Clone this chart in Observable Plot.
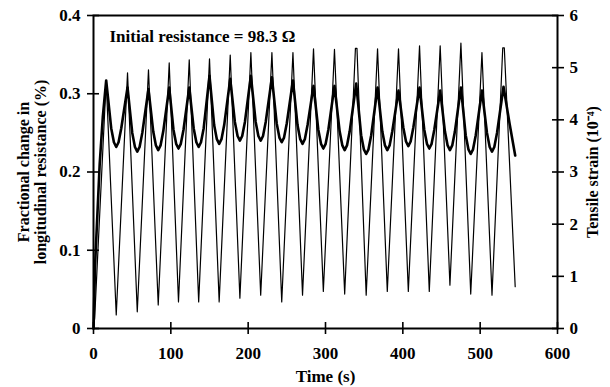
<!DOCTYPE html>
<html>
<head>
<meta charset="utf-8">
<script src="https://cdn.jsdelivr.net/npm/d3@7"></script>
<script src="https://cdn.jsdelivr.net/npm/@observablehq/plot@0.6"></script>
<style>
  html, body { margin: 0; padding: 0; background: #fff; }
</style>
</head>
<body>
<div id="chart"></div>
<script>
// ---- data ----
const timeTicks = [0, 100, 200, 300, 400, 500, 600];
const resTicks = [0, 0.1, 0.2, 0.3, 0.4];
const strainTicks = [0, 1, 2, 3, 4, 5, 6];

// tensile strain (10^-4), thin line
const strainT = [0, 1.5, 16.4, 29.4, 44.0, 56.6, 71.1, 83.7, 97.9, 109.9, 123.8, 136.0, 150.0, 162.5, 176.8, 189.3, 203.5, 216.2, 230.7, 243.4, 257.9, 270.3, 284.5, 297.2, 311.6, 324.8, 338.7, 340.7, 352.6, 367.3, 379.9, 394.4, 407.1, 421.6, 434.2, 448.3, 460.9, 475.1, 487.8, 502.3, 515.3, 529.2, 531.2, 545.3];
const strainV = [0, 0.2, 4.75, 0.26, 4.90, 0.32, 4.96, 0.45, 5.09, 0.51, 5.15, 0.51, 5.17, 0.51, 5.24, 0.58, 5.29, 0.64, 5.29, 0.51, 5.29, 0.64, 5.36, 0.71, 5.35, 0.66, 5.37, 5.37, 0.64, 5.36, 0.71, 5.36, 0.71, 5.42, 0.71, 5.42, 0.83, 5.47, 0.66, 5.29, 0.64, 5.38, 5.38, 0.80];

// fractional change in longitudinal resistance (%), thick line
const resT = [0, 2, 8, 12, 16.4,
  22.9, 26.4, 29.4, 32.4, 35.9, 44.0,
  50.1, 53.6, 56.6, 59.6, 63.1, 71.1,
  77.2, 80.7, 83.7, 86.7, 90.2, 97.9,
  103.4, 106.9, 109.9, 112.9, 116.4, 123.8,
  129.5, 133.0, 136.0, 139.0, 142.5, 150.0,
  156.0, 159.5, 162.5, 165.5, 169.0, 176.8,
  182.8, 186.3, 189.3, 192.3, 195.8, 203.5,
  209.7, 213.2, 216.2, 219.2, 222.7, 230.7,
  236.9, 240.4, 243.4, 246.4, 249.9, 257.9,
  263.8, 267.3, 270.3, 273.3, 276.8, 284.5,
  290.7, 294.2, 297.2, 300.2, 303.7, 311.6,
  318.3, 321.8, 324.8, 327.8, 331.3, 339.7,
  346.1, 349.6, 352.6, 355.6, 359.1, 367.3,
  373.4, 376.9, 379.9, 382.9, 386.4, 394.4,
  400.6, 404.1, 407.1, 410.1, 413.6, 421.6,
  427.7, 431.2, 434.2, 437.2, 440.7, 448.3,
  454.4, 457.9, 460.9, 463.9, 467.4, 475.1,
  481.3, 484.8, 487.8, 490.8, 494.3, 502.3,
  508.8, 512.3, 515.3, 518.3, 521.8, 530.2,
  538.0, 545.3];
const resV = [0, 0.08, 0.21, 0.27, 0.317,
  0.256, 0.238, 0.232, 0.238, 0.256, 0.308,
  0.250, 0.232, 0.226, 0.232, 0.250, 0.306,
  0.252, 0.234, 0.228, 0.234, 0.252, 0.308,
  0.254, 0.236, 0.230, 0.236, 0.254, 0.308,
  0.256, 0.238, 0.232, 0.238, 0.256, 0.323,
  0.260, 0.242, 0.236, 0.242, 0.260, 0.319,
  0.264, 0.246, 0.240, 0.246, 0.264, 0.323,
  0.264, 0.246, 0.240, 0.246, 0.264, 0.321,
  0.262, 0.244, 0.238, 0.244, 0.262, 0.317,
  0.260, 0.242, 0.236, 0.242, 0.260, 0.310,
  0.254, 0.236, 0.230, 0.236, 0.254, 0.310,
  0.252, 0.234, 0.228, 0.234, 0.252, 0.313,
  0.247, 0.229, 0.223, 0.229, 0.247, 0.308,
  0.252, 0.234, 0.228, 0.234, 0.252, 0.304,
  0.257, 0.239, 0.233, 0.239, 0.257, 0.308,
  0.254, 0.236, 0.230, 0.236, 0.254, 0.304,
  0.252, 0.234, 0.228, 0.234, 0.252, 0.308,
  0.247, 0.229, 0.223, 0.229, 0.247, 0.304,
  0.250, 0.232, 0.226, 0.232, 0.250, 0.309,
  0.262, 0.221];

// right axis maps strain 0..6 onto resistance 0..0.4
const RES_PER_STRAIN = 0.4 / 6;

const strain = strainT.map((t, i) => ({t, s: strainV[i]}));
const resistance = resT.map((t, i) => ({t, r: resV[i]}));

const font = "Liberation Serif, Times New Roman, serif";

const chart = Plot.plot({
  width: 610,
  height: 387,
  marginLeft: 93,
  marginRight: 53,
  marginTop: 15,
  marginBottom: 59,
  style: {fontFamily: font, fontWeight: "bold", fontSize: "17px", color: "black", background: "white"},
  x: {domain: [0, 600]},
  y: {domain: [0, 0.4]},
  marks: [
    // bottom axis: outward + inward ticks
    Plot.axisX(timeTicks, {anchor: "bottom", tickSize: 6, tickPadding: 12, strokeWidth: 1.6, label: null, fontSize: 17}),
    Plot.axisX(timeTicks, {anchor: "bottom", tickSize: 6, dy: -6, text: null, strokeWidth: 1.6, label: null}),
    // left axis
    Plot.axisY(resTicks, {anchor: "left", tickSize: 6, tickPadding: 7, strokeWidth: 1.6, label: null,
      tickFormat: d => d === 0 ? "0" : d.toFixed(1), fontSize: 17}),
    Plot.axisY(resTicks, {anchor: "left", tickSize: 6, dx: 6, text: null, strokeWidth: 1.6, label: null}),
    // right axis (strain)
    Plot.axisY(strainTicks.map(s => s * RES_PER_STRAIN), {anchor: "right", tickSize: 6, tickPadding: 6, strokeWidth: 1.6, label: null,
      tickFormat: d => String(Math.round(d / RES_PER_STRAIN)), fontSize: 17}),
    Plot.axisY(strainTicks.map(s => s * RES_PER_STRAIN), {anchor: "right", tickSize: 6, dx: -6, text: null, strokeWidth: 1.6, label: null}),
    Plot.frame({stroke: "black", strokeWidth: 2}),
    // series
    Plot.line(strain, {x: "t", y: d => d.s * RES_PER_STRAIN, stroke: "black", strokeWidth: 1.2}),
    Plot.line(resistance, {x: "t", y: "r", stroke: "black", strokeWidth: 2.6, strokeLinejoin: "round"}),
    // annotation
    Plot.text(["Initial resistance = 98.3 \u03A9"], {frameAnchor: "top-left", dx: 16, dy: 21, textAnchor: "start", lineAnchor: "middle", fontSize: 17, fontWeight: "bold"}),
    // axis titles
    Plot.text(["Time (s)"], {frameAnchor: "bottom", dy: 48, lineAnchor: "middle", fontSize: 17, fontWeight: "bold"}),
    Plot.text(["Fractional change in\nlongitudinal resistance (%)"], {frameAnchor: "left", dx: -61, rotate: -90, textAnchor: "middle", lineAnchor: "middle", lineHeight: 1.05, fontSize: 16, fontWeight: "bold"}),
    Plot.text(["Tensile strain (10\u207B\u2074)"], {frameAnchor: "right", dx: 35, rotate: -90, textAnchor: "middle", lineAnchor: "middle", fontSize: 16, fontWeight: "bold"})
  ]
});

document.getElementById("chart").appendChild(chart);
</script>
</body>
</html>
